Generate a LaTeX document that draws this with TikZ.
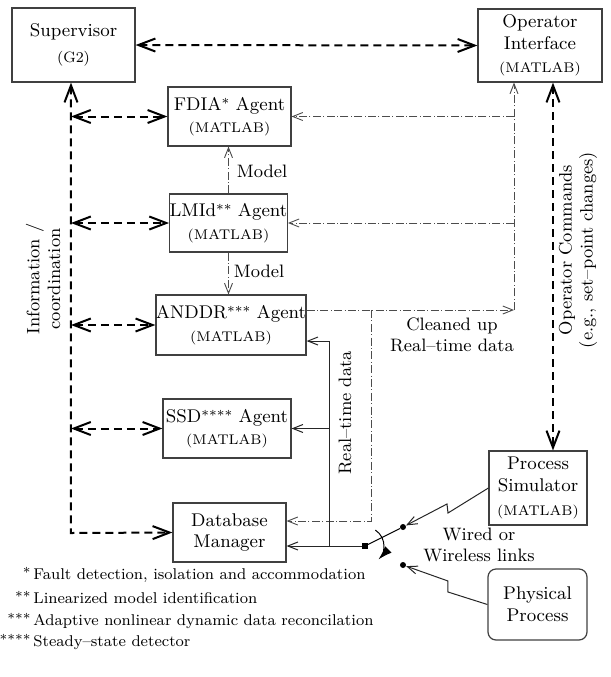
\documentclass[tikz,border=0pt]{standalone}
\usepackage{tikz}
\usetikzlibrary{positioning,arrows.meta,calc}
\newcommand{\mtl}{{\fontsize{7}{8}\selectfont (MATLAB)}}
\newcommand{\stars}[1]{{\fontsize{6.8}{7}\selectfont\raisebox{0.9pt}{#1}}}
\tikzset{
  agbox/.style={draw=black!75,line width=0.6pt,align=center,inner sep=0pt,
    font=\fontsize{9.2}{10.8}\selectfont},
  bus/.style={line width=1pt,dash pattern=on 4pt off 2.5pt,
    {Straight Barb[length=8.5pt,width=6.5pt]}-{Straight Barb[length=8.5pt,width=6.5pt]}},
  ddl/.style={line width=0.45pt,black!70,dash pattern=on 4pt off 1.2pt on 0.5pt off 1.2pt,
    -{Straight Barb[length=5pt,width=4pt]}},
  sol/.style={line width=0.5pt,black!85,-{Straight Barb[length=5pt,width=4pt]}},
  jdot/.style={circle,fill=black,inner sep=0pt,minimum size=3pt},
  lbl/.style={font=\fontsize{9}{10.4}\selectfont,align=center},
  fnote/.style={font=\fontsize{7.8}{9.4}\selectfont,inner sep=0pt},
}
\begin{document}
\begin{tikzpicture}[x=0.5pt,y=-0.5pt]
  \useasboundingbox (0,0) rectangle (611,677);
  % blocks
  \node[agbox,minimum width=61.5pt,minimum height=37pt] (sup) at (73.5,45)
    {Supervisor\\[2.5pt]{\fontsize{7.5}{9}\selectfont (G2)}};
  \node[agbox,minimum width=62pt,minimum height=36.5pt] (opi) at (540,45.5)
    {Operator\\Interface\\[1pt]\mtl};
  \node[agbox,minimum width=61.5pt,minimum height=29.5pt] (fdia) at (229.5,116.5)
    {FDIA\stars{*} Agent\\[0.5pt]\mtl};
  \node[agbox,minimum width=56.5pt,minimum height=29pt] (lmid) at (228.5,223)
    {LMId\stars{**} Agent\\[0.5pt]\mtl};
  \node[agbox,minimum width=75pt,minimum height=30pt] (anddr) at (231,325)
    {ANDDR\stars{***} Agent\\[0.5pt]\mtl};
  \node[agbox,minimum width=64pt,minimum height=29.5pt] (ssd) at (227,428.5)
    {SSD\stars{****} Agent\\[0.5pt]\mtl};
  \node[agbox,minimum width=56.5pt,minimum height=29.5pt] (dbm) at (229.5,532.5)
    {Database\\Manager};
  \node[agbox,minimum width=49pt,minimum height=37pt] (psim) at (538,488)
    {Process\\Simulator\\[1pt]\mtl};
  \node[agbox,rounded corners=4pt,minimum width=49.5pt,minimum height=35.5pt] (phys) at (537.5,604.5)
    {Physical\\Process};

  % information / coordination bus
  \coordinate (bx) at (71,533);
  \draw[bus] (sup.east) -- (opi.west);
  \draw[bus] (bx |- sup.south) -- (bx) -- (dbm.west);
  \foreach \a in {fdia,lmid,anddr,ssd}
    \draw[bus] (bx |- \a.west) -- (\a.west);
  \draw[bus] ([xshift=6.5pt]opi.south) -- ([xshift=6.5pt]opi.south |- psim.north);
  \node[lbl,rotate=90] (info) at (43,279) {Information /\\coordination};
  \node[lbl,rotate=90] (ocmd) at (578,250) {Operator Commands\\(e.g., set--point changes)};

  % models
  \draw[ddl] (lmid.north) -- (lmid.north |- fdia.south);
  \draw[ddl] (lmid.south) -- (lmid.south |- anddr.north);
  \node[lbl] (m1) at (262,171) {Model};
  \node[lbl] (m2) at (259,271) {Model};

  % cleaned up data
  \coordinate (cl) at (514,310);
  \coordinate (cd) at (371,521);
  \draw[ddl] (anddr.east |- cl) -- (cl);
  \draw[ddl] (cl) -- (cl |- opi.south);
  \draw[ddl] (cl |- fdia.east) -- (fdia.east);
  \draw[ddl] (cl |- lmid.east) -- (lmid.east);
  \draw[ddl] (cd |- cl) -- (cd) -- (dbm.east |- cd);
  \node[lbl] (clab) at (452,335) {Cleaned up\\Real--time data};

  % real-time data
  \node[fill=black,inner sep=0pt,minimum size=2.6pt] (sw) at (365,546) {};
  \coordinate (rt) at (330,341);
  \draw[sol] (sw) -- (dbm.east |- sw);
  \draw[sol] (rt |- sw) -- (rt) -- (anddr.east |- rt);
  \draw[sol] (rt |- ssd.east) -- (ssd.east);
  \node[lbl,rotate=90] (rlab) at (345,413) {Real--time data};

  % switch and links
  \node[jdot] (c1) at (403,527) {};
  \node[jdot] (c2) at (403,565) {};
  \draw[line width=0.5pt] (sw) -- (c1);
  \draw[line width=0.5pt,-{Latex[length=7pt,width=4.5pt]}]
    ($(sw)+(-57:19)$) arc[start angle=-57,end angle=45,radius=19];
  \draw[sol] (psim.west) -- (448,513) -- (447,504) -- (c1);
  \draw[sol] (phys.west) -- (448,592) -- (448,581) -- (c2);
  \node[lbl] (wl) at (479,545) {Wired or\\Wireless links};

  % footnotes
  \foreach \y/\s/\t in {579/*/{Fault detection, isolation and accommodation},
      603/**/{Linearized model identification},
      625/***/{Adaptive nonlinear dynamic data reconcilation},
      646/****/{Steady--state detector}}{
    \node[fnote,anchor=base east] (s\y) at (31,\y) {\stars{\s}};
    \node[fnote,anchor=base west] (t\y) at (33,\y) {\t};
  }
\end{tikzpicture}
\end{document}
